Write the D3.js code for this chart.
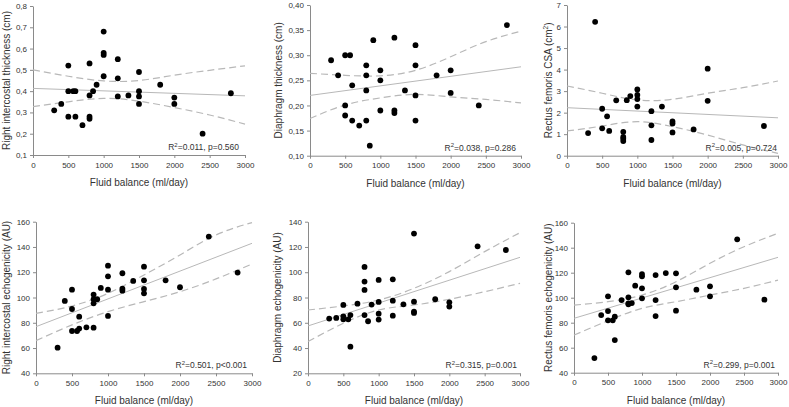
<!DOCTYPE html>
<html>
<head>
<meta charset="utf-8">
<script src="https://cdn.jsdelivr.net/npm/d3@7"></script>
<style>
  body { margin: 0; background: #fff; }
  text { font-family: "Liberation Sans", Arial, sans-serif; fill: #333; }
  .axis path, .axis line { stroke: #8a8a8a; }
  .axis text { font-size: 8px; fill: #333; }
</style>
</head>
<body>
<script>
// fluid balance ticks shared by all panels
var fluidTicks = [0, 500, 1000, 1500, 2000, 2500, 3000];
// x positions where the fit and confidence bands were read
var bandX = [0, 500, 1000, 1500, 2000, 2500, 3000];
var fitX = [0, 3000];

// right intercostal thickness
var icThickX = [300,400,500,500,500,570,600,600,700,800,800,800,800,850,900,1000,1000,1000,1000,1200,1200,1200,1350,1500,1500,1500,1500,1800,2000,2000,2400,2800];
var icThickY = [0.31,0.34,0.52,0.40,0.28,0.40,0.40,0.28,0.24,0.53,0.38,0.28,0.27,0.40,0.43,0.68,0.58,0.57,0.47,0.55,0.46,0.375,0.38,0.49,0.40,0.375,0.34,0.43,0.37,0.34,0.20,0.39];
var icThickFit = [0.413, 0.378];
var icThickUpper = [0.50, 0.47, 0.448, 0.45, 0.475, 0.498, 0.519];
var icThickLower = [0.327, 0.35, 0.366, 0.353, 0.323, 0.288, 0.245];
var icThickTicks = [0.1, 0.2, 0.3, 0.4, 0.5, 0.6, 0.7, 0.8];

// diaphragm thickness
var diaThickX = [300,400,500,500,500,570,600,600,700,800,800,800,800,850,900,1000,1000,1000,1200,1200,1200,1350,1500,1500,1500,1500,1800,2000,2000,2400,2800];
var diaThickY = [0.29,0.26,0.30,0.20,0.18,0.30,0.24,0.17,0.16,0.28,0.26,0.23,0.17,0.12,0.33,0.27,0.25,0.19,0.335,0.19,0.185,0.23,0.32,0.28,0.22,0.17,0.26,0.27,0.225,0.20,0.36];
var diaThickFit = [0.22, 0.277];
var diaThickUpper = [0.264, 0.26, 0.259, 0.27, 0.297, 0.327, 0.348];
var diaThickLower = [0.174, 0.201, 0.215, 0.222, 0.217, 0.212, 0.205];
var diaThickTicks = [0.10, 0.15, 0.20, 0.25, 0.30, 0.35, 0.40];

// rectus femoris CSA
var rfCsaX = [300,400,500,500,570,600,700,800,800,800,800,850,900,1000,1000,1000,1000,1200,1200,1200,1350,1500,1500,1500,1800,2000,2000,2800];
var rfCsaY = [1.05,6.22,2.18,1.27,1.83,1.15,2.57,1.11,0.87,0.79,0.68,2.58,2.77,3.08,2.82,2.63,2.28,2.07,1.41,0.73,2.28,1.59,1.49,1.08,1.22,4.04,2.55,1.38];
var rfCsaFit = [2.23, 1.76];
var rfCsaUpper = [3.24, 2.9, 2.59, 2.62, 2.9, 3.16, 3.47];
var rfCsaLower = [1.15, 1.38, 1.58, 1.35, 0.96, 0.5, 0.11];
var rfCsaTicks = [0, 1, 2, 3, 4, 5, 6, 7];

// right intercostal echogenicity
var icEchoX = [300,400,500,500,500,570,600,600,700,800,800,800,800,850,900,1000,1000,1000,1000,1200,1200,1200,1350,1500,1500,1500,1500,1800,2000,2400,2800];
var icEchoY = [60.3,97.3,106.2,90.9,73.5,73.5,75.4,84.8,76.4,76.1,95.4,98.6,102.3,98.6,107.6,125.2,116.8,106.2,85.4,119.2,107,105.4,113.1,124.4,113.6,106.8,103.3,113.6,108.1,148.2,119.7];
var icEchoFit = [76.9, 142.9];
var icEchoUpper = [87.5, 93.3, 103.3, 117.8, 133.7, 149.5, 159.3];
var icEchoLower = [65.9, 78.3, 88.8, 96.7, 104.6, 114.7, 126.5];
var icEchoTicks = [40, 60, 80, 100, 120, 140, 160];

// diaphragm echogenicity
var diaEchoX = [300,400,500,500,500,570,600,600,700,800,800,800,800,850,900,1000,1000,1000,1000,1200,1200,1200,1350,1500,1500,1500,1500,1800,2000,2000,2400,2800];
var diaEchoY = [63.3,63.8,74.1,65.1,62.7,62.7,66.1,41.1,75.1,104.2,92.6,86,66.1,61.2,74.4,93.9,76.5,67.2,62.5,94.4,77.5,65.6,74.6,130.6,76.7,68.8,67.8,78.6,76.2,72.8,120.5,117.6];
var diaEchoFit = [57.5, 111.8];
var diaEchoUpper = [70.1, 73.3, 78, 87.3, 100.5, 116.3, 131.3];
var diaEchoLower = [45.1, 59.6, 70.1, 74.1, 78.6, 84.6, 91.2];
var diaEchoTicks = [20, 40, 60, 80, 100, 120, 140];

// rectus femoris echogenicity
var rfEchoX = [300,400,500,500,500,570,600,600,700,800,800,800,800,850,900,1000,1000,1000,1000,1200,1200,1200,1350,1500,1500,1500,1800,2000,2000,2400,2800];
var rfEchoY = [51.7,86.1,101.1,89.3,81.9,81.9,84.8,66.1,98.1,120.3,100.3,95.5,94.7,95.7,109.6,118.9,117.1,107.5,99.5,118.1,98.1,85.3,119.7,119.5,108.3,89.6,106.4,109.1,101.1,146.7,98.4];
var rfEchoFit = [83.5, 132.3];
var rfEchoUpper = [94.1, 96.8, 102.1, 112.8, 127.5, 140.8, 151.5];
var rfEchoLower = [70.1, 81.6, 91.5, 96.8, 102.1, 107.5, 114.1];
var rfEchoTicks = [40, 60, 80, 100, 120, 140, 160];

var commaLocale = d3.formatLocale({decimal: ",", thousands: ".", grouping: [3], currency: ["", ""]});

var svg = d3.select("body")
  .append("svg")
  .attr("width", 789)
  .attr("height", 407);

// panel layout
var panels = [
  {x: icThickX, y: icThickY, fit: icThickFit, up: icThickUpper, lo: icThickLower, ticks: icThickTicks,
   xr: [33, 245], yr: [155, 6], fmt: ".1f", title: "Right intercostal thickness (cm)", tdx: -27,
   stat: ["0.011", "p=0.560"], sdx: -6},
  {x: diaThickX, y: diaThickY, fit: diaThickFit, up: diaThickUpper, lo: diaThickLower, ticks: diaThickTicks,
   xr: [310, 521], yr: [155.7, 5], fmt: ".2f", title: "Diaphragm thickness (cm)", tdx: -32,
   stat: ["0.038", "p=0.286"], sdx: -5},
  {x: rfCsaX, y: rfCsaY, fit: rfCsaFit, up: rfCsaUpper, lo: rfCsaLower, ticks: rfCsaTicks,
   xr: [567, 778], yr: [155.7, 5], fmt: "d", title: "Rectus femoris CSA (cm", sup: true, tdx: -19,
   stat: ["0.005", "p=0.724"], sdx: -1},
  {x: icEchoX, y: icEchoY, fit: icEchoFit, up: icEchoUpper, lo: icEchoLower, ticks: icEchoTicks,
   xr: [36, 252], yr: [373.3, 221.7], fmt: "d", title: "Right intercostal echogenicity (AU)", tdx: -30,
   stat: ["0.501", "p<0.001"], sdx: -5},
  {x: diaEchoX, y: diaEchoY, fit: diaEchoFit, up: diaEchoUpper, lo: diaEchoLower, ticks: diaEchoTicks,
   xr: [308, 520], yr: [373.3, 221.7], fmt: "d", title: "Diaphragm echogenicity (AU)", tdx: -31,
   stat: ["0.315", "p=0.001"], sdx: -3},
  {x: rfEchoX, y: rfEchoY, fit: rfEchoFit, up: rfEchoUpper, lo: rfEchoLower, ticks: rfEchoTicks,
   xr: [574, 778], yr: [372.7, 222.7], fmt: "d", title: "Rectus femoris echogenicity (AU)", tdx: -26,
   stat: ["0.299", "p=0.001"], sdx: -3}
];

panels.forEach(function(p) {
  var xScale = d3.scaleLinear().domain([0, 3000]).range(p.xr);
  var yScale = d3.scaleLinear()
    .domain([p.ticks[0], p.ticks[p.ticks.length - 1]])
    .range(p.yr);
  var g = svg.append("g");

  // x axis
  g.append("g")
    .attr("class", "axis")
    .attr("transform", `translate(0, ${p.yr[0]})`)
    .call(d3.axisBottom(xScale).tickValues(fluidTicks).tickFormat(d3.format("d"))
      .tickSize(3).tickSizeOuter(0).tickPadding(4));

  // y axis
  g.append("g")
    .attr("class", "axis")
    .attr("transform", `translate(${p.xr[0]}, 0)`)
    .call(d3.axisLeft(yScale).tickValues(p.ticks).tickFormat(commaLocale.format(p.fmt))
      .tickSize(3).tickSizeOuter(0).tickPadding(3));

  // confidence bands and fit line
  var band = d3.line()
    .x(function(d, i) { return xScale(bandX[i]); })
    .y(function(d) { return yScale(d); })
    .curve(d3.curveNatural);
  [p.up, p.lo].forEach(function(b) {
    g.append("path")
      .attr("d", band(b))
      .attr("fill", "none")
      .attr("stroke", "#b8b8b8")
      .attr("stroke-width", 1.2)
      .attr("stroke-dasharray", "7,4");
  });
  g.append("path")
    .attr("d", d3.line()
      .x(function(d, i) { return xScale(fitX[i]); })
      .y(function(d) { return yScale(d); })(p.fit))
    .attr("fill", "none")
    .attr("stroke", "#b8b8b8")
    .attr("stroke-width", 1);

  // points
  g.selectAll("circle")
    .data(p.y)
    .enter()
    .append("circle")
    .attr("cx", function(d, i) { return xScale(p.x[i]); })
    .attr("cy", function(d) { return yScale(d); })
    .attr("r", 2.9)
    .attr("fill", "#000");

  // x title
  g.append("text")
    .attr("x", (p.xr[0] + p.xr[1]) / 2)
    .attr("y", p.yr[0] + 31)
    .attr("text-anchor", "middle")
    .style("font-size", "10px")
    .text("Fluid balance (ml/day)");

  // y title
  var cy = (p.yr[0] + p.yr[1]) / 2;
  var yt = g.append("text")
    .attr("transform", `translate(${p.xr[0] + p.tdx}, ${cy}) rotate(-90)`)
    .attr("text-anchor", "middle")
    .attr("dy", "0.35em")
    .style("font-size", "10px");
  yt.append("tspan").text(p.title);
  if (p.sup) {
    yt.append("tspan").attr("dy", -4).style("font-size", "6.5px").text("2");
    yt.append("tspan").attr("dy", 4).text(")");
  }

  // R2 annotation
  var st = g.append("text")
    .attr("x", p.xr[1] + p.sdx)
    .attr("y", p.yr[0] - 5)
    .attr("text-anchor", "end")
    .style("font-size", "8.5px");
  st.append("tspan").text("R");
  st.append("tspan").attr("dy", -3.5).style("font-size", "6px").text("2");
  st.append("tspan").attr("dy", 3.5).text("=" + p.stat[0] + ", " + p.stat[1]);
});
</script>
</body>
</html>
